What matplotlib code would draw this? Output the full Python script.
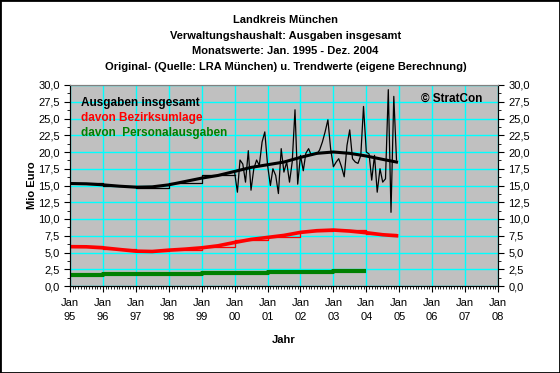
import numpy as np
import pandas as pd
import matplotlib
matplotlib.use("Agg")
import matplotlib.pyplot as plt
import matplotlib.dates as mdates
from matplotlib.ticker import MultipleLocator, FuncFormatter

plt.rcParams['font.family'] = ['Liberation Sans', 'DejaVu Sans']

# Ausgaben insgesamt: annual values 1995-1999, monthly values 2000-2004
total_years = ['1995-01-01', '1996-01-01', '1997-01-01', '1998-01-01', '1999-01-01', '2000-01-01']
total_annual = [15.3, 15.0, 14.7, 15.4, 16.5, 16.5]
total_monthly = [
    17.0, 14.0, 18.8, 18.2, 15.5, 20.2, 14.3, 17.5, 18.8, 18.0, 21.5, 23.0,   # 2000
    18.0, 15.0, 17.5, 16.5, 13.8, 20.5, 17.0, 18.5, 15.5, 18.5, 26.3, 15.2,   # 2001
    19.5, 17.2, 19.8, 20.5, 19.5, 19.7, 19.7, 20.3, 21.5, 23.0, 24.8, 20.5,   # 2002
    17.8, 18.5, 19.0, 17.8, 16.3, 21.0, 23.3, 19.0, 18.5, 18.3, 19.5, 26.8,   # 2003
    20.0, 19.7, 15.8, 19.5, 14.0, 17.5, 15.5, 16.0, 29.3, 11.0, 28.3, 18.8,   # 2004
]

# trend values (half-yearly, last point Dec 2004)
trend_dates = ['1995-01-01', '1995-07-01', '1996-01-01', '1996-07-01', '1997-01-01',
               '1997-07-01', '1998-01-01', '1998-07-01', '1999-01-01', '1999-07-01',
               '2000-01-01', '2000-07-01', '2001-01-01', '2001-07-01', '2002-01-01',
               '2002-07-01', '2003-01-01', '2003-07-01', '2004-01-01', '2004-07-01',
               '2004-12-01']
total_trend = [15.3, 15.25, 15.1, 14.9, 14.75, 14.8, 15.1, 15.6, 16.1, 16.5,
               17.1, 17.7, 18.1, 18.5, 19.2, 19.8, 20.0, 19.8, 19.4, 18.9, 18.5]
bezirk_trend = [5.87, 5.85, 5.7, 5.45, 5.2, 5.15, 5.35, 5.5, 5.7, 6.0,
                6.5, 6.95, 7.25, 7.55, 8.0, 8.25, 8.35, 8.2, 7.95, 7.65, 7.5]

# Bezirksumlage annual values
bezirk_years = ['1995-01-01', '1996-01-01', '1997-01-01', '1998-01-01', '1999-01-01',
                '2000-01-01', '2001-01-01', '2002-01-01', '2003-01-01', '2004-01-01',
                '2004-12-01']
bezirk_annual = [5.9, 5.55, 5.2, 5.4, 5.8, 6.8, 7.3, 8.2, 8.3, 7.7, 7.7]

# Personalausgaben annual values
personal_years = ['1995-01-01', '1996-01-01', '1997-01-01', '1998-01-01', '1999-01-01',
                  '2000-01-01', '2001-01-01', '2002-01-01', '2003-01-01', '2003-12-01']
personal_annual = [1.6, 1.8, 1.8, 1.8, 1.95, 1.95, 2.1, 2.1, 2.25, 2.25]

title_lines = ["Landkreis München",
               "Verwaltungshaushalt: Ausgaben insgesamt",
               "Monatswerte: Jan. 1995 - Dez. 2004",
               "Original- (Quelle: LRA München) u. Trendwerte (eigene Berechnung)"]

fig = plt.figure(figsize=(5.6, 3.73), dpi=100)
ax = fig.add_axes([70/560, 1-286/373, 428/560, 201/373])
ax.set_facecolor('#C0C0C0')

monthly_dates = pd.date_range('2000-01-01', periods=len(total_monthly), freq='MS')

# thin original lines
ax.plot(pd.to_datetime(total_years), total_annual, color='black', lw=0.9, drawstyle='steps-post')
ax.plot(monthly_dates, total_monthly, color='black', lw=0.9)
ax.plot(pd.to_datetime(bezirk_years), bezirk_annual, color='red', lw=0.9, drawstyle='steps-post')

# thick trend lines
ax.plot(pd.to_datetime(trend_dates), total_trend, color='black', lw=2.2)
ax.plot(pd.to_datetime(trend_dates), bezirk_trend, color='red', lw=2.6)
ax.plot(pd.to_datetime(personal_years), personal_annual, color='#008000', lw=3, drawstyle='steps-post')

ax.set_xlim(pd.Timestamp('1995-01-01'), pd.Timestamp('2008-01-01'))
ax.set_ylim(0, 30)

ax.xaxis.set_major_locator(mdates.YearLocator())
ax.xaxis.set_major_formatter(mdates.DateFormatter('Jan\n%y'))
ax.xaxis.set_minor_locator(mdates.MonthLocator())
ax.yaxis.set_major_locator(MultipleLocator(2.5))
ax.yaxis.set_minor_locator(MultipleLocator(1.25))
fmt = FuncFormatter(lambda v, p: ('%.1f' % v).replace('.', ','))
ax.yaxis.set_major_formatter(fmt)

ax.grid(True, which='major', color='#00FFFF', lw=1)
ax.set_axisbelow(True)
ax.tick_params(axis='both', which='major', labelsize=8, length=4, width=0.8, direction='out')
ax.tick_params(axis='both', which='minor', length=2, width=0.6, direction='out')
ax.tick_params(axis='x', which='major', pad=5)
for lab in ax.get_xticklabels():
    lab.set_linespacing(1.5)

ax.spines['top'].set_color('#808080')
for s in ['left', 'right', 'bottom']:
    ax.spines[s].set_color('black')

ax2 = ax.twinx()
ax2.set_ylim(0, 30)
ax2.yaxis.set_major_locator(MultipleLocator(2.5))
ax2.yaxis.set_minor_locator(MultipleLocator(1.25))
ax2.yaxis.set_major_formatter(fmt)
ax2.tick_params(axis='y', which='major', labelsize=8, length=4, width=0.8, direction='out')
ax2.tick_params(axis='y', which='minor', length=2, width=0.6, direction='out')
ax2.spines['top'].set_color('#808080')

ax.set_ylabel('Mio Euro', fontsize=8, fontweight='bold', labelpad=1)
ax.set_xlabel('Jahr', fontsize=8, fontweight='bold', labelpad=9)

# legend texts inside plot
ax.text(0.025, 0.91, 'Ausgaben insgesamt', transform=ax.transAxes, fontsize=8.5,
        fontweight='bold', color='black', va='center')
ax.text(0.025, 0.835, 'davon Bezirksumlage', transform=ax.transAxes, fontsize=8.5,
        fontweight='bold', color='red', va='center')
ax.text(0.025, 0.76, 'davon  Personalausgaben', transform=ax.transAxes, fontsize=8.5,
        fontweight='bold', color='#008000', va='center')
ax.text(0.82, 0.93, '© StratCon', transform=ax.transAxes, fontsize=8.5,
        fontweight='bold', color='black', va='center')

for i, line in enumerate(title_lines):
    fig.text(0.51, 1 - (20 + i * 15.6) / 373, line, ha='center', va='center',
             fontsize=8, fontweight='bold')

fig.add_artist(plt.Rectangle((0, 0), 1, 1, transform=fig.transFigure, fill=False,
                             ec='black', lw=2))

fig.savefig('out.png', dpi=100)
